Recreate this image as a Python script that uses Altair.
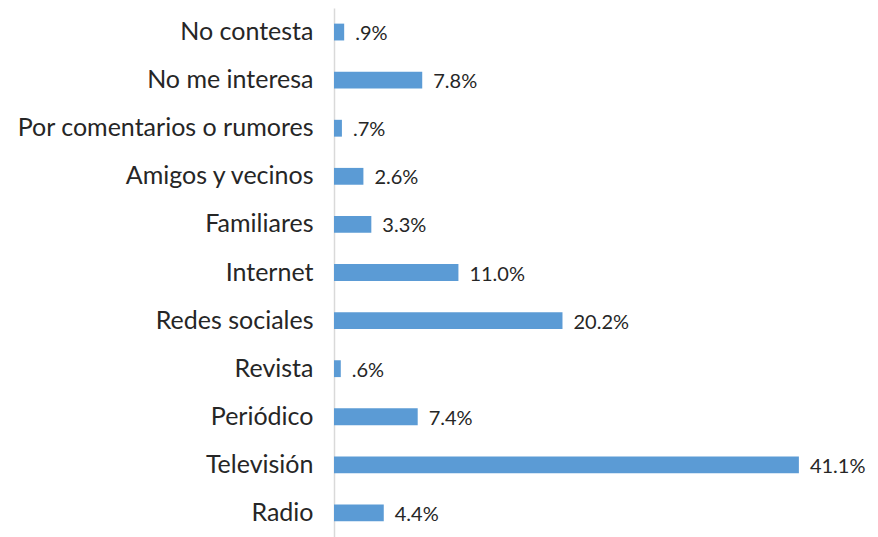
import altair as alt
import pandas as pd

categories = ["No contesta", "No me interesa", "Por comentarios o rumores",
              "Amigos y vecinos", "Familiares", "Internet", "Redes sociales",
              "Revista", "Periódico", "Televisión", "Radio"]
values = [0.9, 7.8, 0.7, 2.6, 3.3, 11.0, 20.2, 0.6, 7.4, 41.1, 4.4]
labels = [".9%", "7.8%", ".7%", "2.6%", "3.3%", "11.0%", "20.2%", ".6%", "7.4%", "41.1%", "4.4%"]

df = pd.DataFrame({"cat": categories, "val": values, "lab": labels})

FONT = "Lato"
y = alt.Y("cat:N", sort=categories, title=None,
          scale=alt.Scale(paddingInner=0.65, paddingOuter=0.325),
          axis=alt.Axis(ticks=False, labelPadding=21, labelFontSize=25, labelFont=FONT,
                        labelColor="#262626", domainColor="#d9d9d9", domainWidth=1.5,
                        labelLimit=400))
x = alt.X("val:Q", title=None, scale=alt.Scale(domain=[0, 45], nice=False),
          axis=None)

bars = alt.Chart(df).mark_bar(color="#5B9BD5").encode(x=x, y=y)
text = alt.Chart(df).mark_text(align="left", baseline="middle", dx=11, dy=2,
                               fontSize=20, font=FONT, color="#262626").encode(
    x=x, y=alt.Y("cat:N", sort=categories), text="lab:N")

chart = (bars + text).properties(
    width=509, height=529,
    autosize=alt.AutoSizeParams(type="none"),
    padding={"left": 326, "top": 0, "right": 26, "bottom": 0},
).configure_view(stroke=None).configure_axis(grid=False)

chart.save("out.html", embed_options={"renderer": "svg", "actions": False})
